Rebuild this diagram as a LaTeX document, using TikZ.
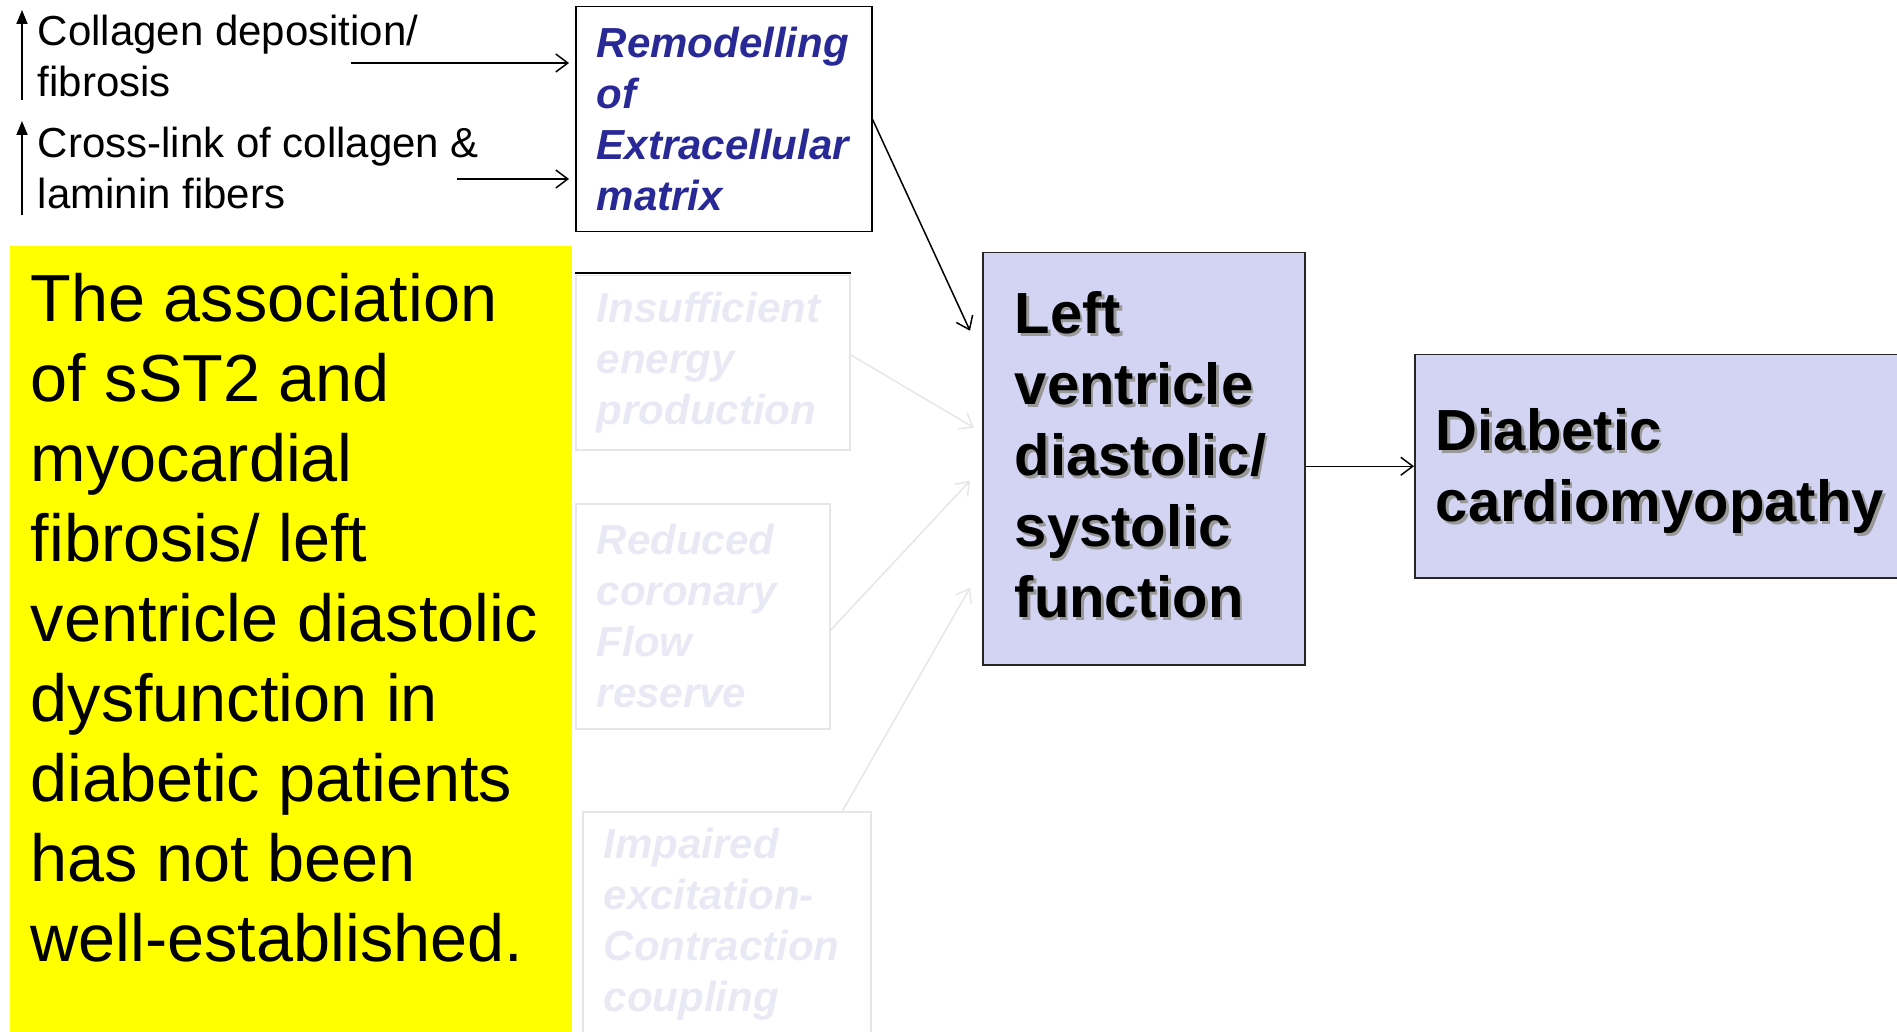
\documentclass[tikz,border=0pt]{standalone}
\usepackage{fontspec}
\setmainfont{Liberation Sans}
\usetikzlibrary{arrows.meta}
\definecolor{remblue}{RGB}{40,40,150}
\definecolor{faint}{RGB}{233,233,245}
\definecolor{faintline}{RGB}{230,230,230}
\definecolor{lvfill}{RGB}{211,211,243}
\definecolor{noteyellow}{RGB}{255,255,0}
\newcommand{\shadowed}[1]{\makebox[0pt][l]{\hspace{1.3pt}\raisebox{-1.3pt}{\textcolor{black!40}{#1}}}#1}
\begin{document}
\begin{tikzpicture}[x=0.5pt, y=-0.5pt, line width=0.75pt,
  barb/.style={-{Straight Barb[length=6pt,width=9pt]}},
  up/.style={-{Triangle[length=7pt,width=5.5pt]}, line width=0.9pt},
  small/.style={anchor=north west, inner sep=0pt, align=left, font=\fontsize{21}{25.5}\selectfont},
  cause/.style={anchor=north west, draw, inner xsep=10.5pt, inner ysep=0pt, align=left, font=\fontsize{21}{25.5}\selectfont\bfseries\itshape},
  faded/.style={cause, draw=faintline, text=faint},
  effect/.style={anchor=north west, draw=black!85, fill=lvfill, inner ysep=0pt, align=left, font=\fontsize{29}{35.5}\selectfont\bfseries}]
\useasboundingbox (0, 0) rectangle (1897, 1032);
%Inputs
\node[small] (colA) at (37, 14) {Collagen deposition/\\fibrosis};
\node[small] (colB) at (37, 126) {Cross-link of collagen \&\\laminin fibers};
\draw[up] ([shift={(-7.5pt,-1.5pt)}]colA.south west) -- ([shift={(-7.5pt,2pt)}]colA.north west);
\draw[up] ([shift={(-7.5pt,-3pt)}]colB.south west) -- ([shift={(-7.5pt,2.5pt)}]colB.north west);
\node[cause, text=remblue, minimum width=148pt, minimum height=112.5pt, text width=127pt] (remod) at (575, 6) {Remodelling\\of\\Extracellular\\matrix};
\coordinate (cfA) at (351, 63);
\coordinate (cfB) at (457, 179);
\draw[barb, shorten >=3pt] (cfA) -- (remod.west |- cfA);
\draw[barb, shorten >=3pt] (cfB) -- (remod.west |- cfB);
%Hidden causes
\node[faded, minimum width=137pt, minimum height=87pt, text width=116pt] (ins) at (575, 275) {Insufficient\\energy\\production};
\draw[line width=0.6pt] ([yshift=1pt]ins.north west) -- ([yshift=1pt]ins.north east);
\node[faded, minimum width=127pt, minimum height=112.5pt, text width=106pt] (red) at (575, 503) {Reduced\\coronary\\Flow\\reserve};
\node[faded, minimum width=144pt, minimum height=112.5pt, text width=123pt] (imp) at (582, 811) {Impaired\\excitation-\\Contraction\\coupling};
%Outcome
\node[effect, minimum width=161pt, minimum height=206pt, inner xsep=16pt, text width=129pt] (lv) at (982, 252) {\shadowed{Left}\\\shadowed{ventricle}\\\shadowed{diastolic/}\\\shadowed{systolic}\\\shadowed{function}\rule[-4pt]{0pt}{4pt}};
\node[effect, minimum width=260pt, minimum height=111.5pt, inner xsep=10.5pt, text width=239pt] (dia) at (1414, 354) {\rule{0pt}{27pt}\shadowed{Diabetic}\\\shadowed{cardiomyopathy}};
\draw[barb] (remod.east) -- ([shift={(-6pt,64pt)}]lv.west);
\draw[barb, faintline] ([yshift=4pt]ins.east) -- ([shift={(-4pt,15.5pt)}]lv.west);
\draw[barb, faintline] ([yshift=-7pt]red.east) -- ([shift={(-6pt,-11pt)}]lv.west);
\draw[barb, faintline] ([xshift=-14.5pt]imp.north east) -- ([shift={(-6pt,-64.5pt)}]lv.west);
\draw[barb] (lv.east |- dia.west) -- (dia.west);
%Note
\fill[noteyellow] (10, 246) rectangle (572, 1032);
\node[anchor=north west, inner sep=0pt, align=left, font=\fontsize{33.3}{40}\selectfont] (note) at (30, 272) {The association\\of sST2 and\\myocardial\\fibrosis/ left\\ventricle diastolic\\dysfunction in\\diabetic patients\\has not been\\well-established.};
\end{tikzpicture}
\end{document}
